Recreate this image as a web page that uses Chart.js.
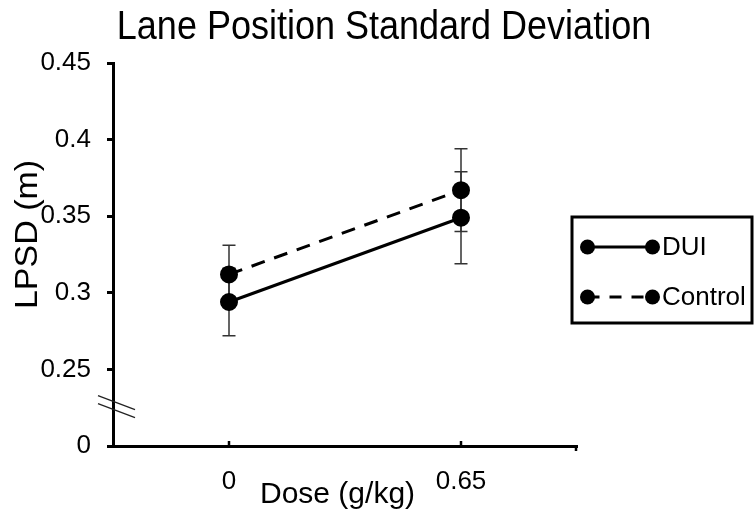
<!DOCTYPE html>
<html>
<head>
<meta charset="utf-8">
<script src="https://cdn.jsdelivr.net/npm/chart.js@4.4.1/dist/chart.umd.min.js"></script>
<style>
  html, body { margin: 0; padding: 0; background: #fff; }
  #wrap { position: relative; width: 754px; height: 519px; }
</style>
</head>
<body>
<div id="wrap"><canvas id="lpsd"></canvas></div>
<script>
const doses = ['0', '0.65'];
const duiMean = [0.294, 0.349];
const duiErr = [0.022, 0.030];
const controlMean = [0.312, 0.367];
const controlErr = [0.019, 0.027];
const yTicks = [0.2, 0.25, 0.3, 0.35, 0.4, 0.45];
const yTickLabels = ['0', '0.25', '0.3', '0.35', '0.4', '0.45'];

const FONT = "'Liberation Sans', Arial, sans-serif";
Chart.defaults.font.family = FONT;
Chart.defaults.color = '#000';

// error bars, drawn behind the markers
const errorBars = {
  id: 'errorBars',
  beforeDatasetsDraw(chart) {
    const { ctx, scales: { x, y } } = chart;
    const sets = [[duiMean, duiErr], [controlMean, controlErr]];
    ctx.save();
    ctx.strokeStyle = '#333';
    ctx.lineWidth = 1.5;
    sets.forEach(([mean, err]) => {
      mean.forEach((m, i) => {
        const px = x.getPixelForValue(i);
        const top = y.getPixelForValue(m + err[i]);
        const bot = y.getPixelForValue(m - err[i]);
        ctx.beginPath();
        ctx.moveTo(px, top); ctx.lineTo(px, bot);
        ctx.moveTo(px - 6.5, top); ctx.lineTo(px + 6.5, top);
        ctx.moveTo(px - 6.5, bot); ctx.lineTo(px + 6.5, bot);
        ctx.stroke();
      });
    });
    ctx.restore();
  }
};

// title, axis titles, break marks, x tick marks and the boxed legend
const extras = {
  id: 'extras',
  afterDraw(chart) {
    const { ctx, chartArea: a, scales: { x, y } } = chart;
    ctx.save();

    // title (slightly condensed like the original)
    ctx.save();
    ctx.fillStyle = '#000';
    ctx.font = '40px ' + FONT;
    ctx.textAlign = 'center';
    ctx.textBaseline = 'alphabetic';
    ctx.translate(384, 39);
    ctx.scale(0.9, 1);
    ctx.fillText('Lane Position Standard Deviation', 0, 0);
    ctx.restore();

    // x tick marks
    ctx.strokeStyle = '#000';
    ctx.lineWidth = 2.5;
    doses.forEach((d, i) => {
      const px = x.getPixelForValue(i);
      ctx.beginPath(); ctx.moveTo(px, a.bottom); ctx.lineTo(px, a.bottom - 5); ctx.stroke();
    });
    ctx.beginPath(); ctx.moveTo(a.right - 1, a.bottom); ctx.lineTo(a.right - 1, a.bottom + 5); ctx.stroke();

    // axis break
    const mid = (y.getPixelForValue(0.2) + y.getPixelForValue(0.25)) / 2;
    ctx.strokeStyle = '#222';
    ctx.lineWidth = 1.3;
    [-5, 3].forEach(off => {
      ctx.beginPath();
      ctx.moveTo(a.left - 15, mid + off - 7);
      ctx.lineTo(a.left + 22, mid + off + 7);
      ctx.stroke();
    });

    // axis titles
    ctx.fillStyle = '#000';
    ctx.font = '30px ' + FONT;
    ctx.textAlign = 'left';
    ctx.textBaseline = 'alphabetic';
    ctx.fillText('Dose (g/kg)', a.left + 147, a.bottom + 57);

    ctx.save();
    ctx.font = '34px ' + FONT;
    ctx.translate(37, 234.5);
    ctx.rotate(-Math.PI / 2);
    ctx.scale(1, 0.92);
    ctx.textAlign = 'center';
    ctx.fillText('LPSD (m)', 0, 0);
    ctx.restore();

    // legend
    const lx = a.right - 5, ly = 217, lw = 180, lh = 106;
    ctx.strokeStyle = '#000';
    ctx.lineWidth = 3;
    ctx.strokeRect(lx, ly, lw, lh);
    const rows = [['DUI', [], 30], ['Control', [12, 10], 80]];
    rows.forEach(([label, dash, dy]) => {
      const yy = ly + dy;
      const x0 = lx + 15.5, x1 = lx + 80.5;
      ctx.setLineDash(dash);
      ctx.lineWidth = 3;
      ctx.beginPath(); ctx.moveTo(x0, yy); ctx.lineTo(x1, yy); ctx.stroke();
      ctx.setLineDash([]);
      [x0, x1].forEach(cx => {
        ctx.beginPath(); ctx.arc(cx, yy, 7.5, 0, Math.PI * 2); ctx.fill();
      });
      ctx.font = '26px ' + FONT;
      ctx.textBaseline = 'middle';
      ctx.textAlign = 'left';
      ctx.fillText(label, lx + 90, yy + 1);
    });
    ctx.restore();
  }
};

new Chart(document.getElementById('lpsd'), {
  type: 'line',
  data: {
    labels: doses,
    datasets: [
      {
        label: 'DUI',
        data: duiMean,
        borderColor: '#000',
        backgroundColor: '#000',
        borderWidth: 3,
        pointRadius: 7.5,
        pointHoverRadius: 7.5,
        tension: 0
      },
      {
        label: 'Control',
        data: controlMean,
        borderColor: '#000',
        backgroundColor: '#000',
        borderWidth: 3,
        borderDash: [14, 10],
        pointRadius: 7.5,
        pointHoverRadius: 7.5,
        tension: 0
      }
    ]
  },
  options: {
    responsive: true,
    maintainAspectRatio: false,
    animation: false,
    layout: { padding: { left: 0, right: 177, top: 63, bottom: 0 } },
    plugins: {
      legend: { display: false },
      tooltip: { enabled: false },
      title: { display: false }
    },
    scales: {
      x: {
        offset: true,
        afterFit: s => { s.height = 73; },
        grid: { display: false, drawTicks: false },
        border: { display: true, color: '#000', width: 3 },
        ticks: { font: { size: 26 }, padding: 20, color: '#000' }
      },
      y: {
        min: 0.2,
        max: 0.45,
        afterFit: s => { s.width = 113; },
        afterBuildTicks: s => { s.ticks = yTicks.map(v => ({ value: v })); },
        grid: { drawOnChartArea: false, drawTicks: true, tickLength: 6, tickWidth: 3, color: '#000' },
        border: { display: true, color: '#000', width: 3 },
        ticks: {
          font: { size: 26 },
          padding: 16,
          color: '#000',
          callback: v => yTickLabels[yTicks.indexOf(Math.round(v * 100) / 100)]
        }
      }
    }
  },
  plugins: [errorBars, extras]
});
</script>
</body>
</html>
